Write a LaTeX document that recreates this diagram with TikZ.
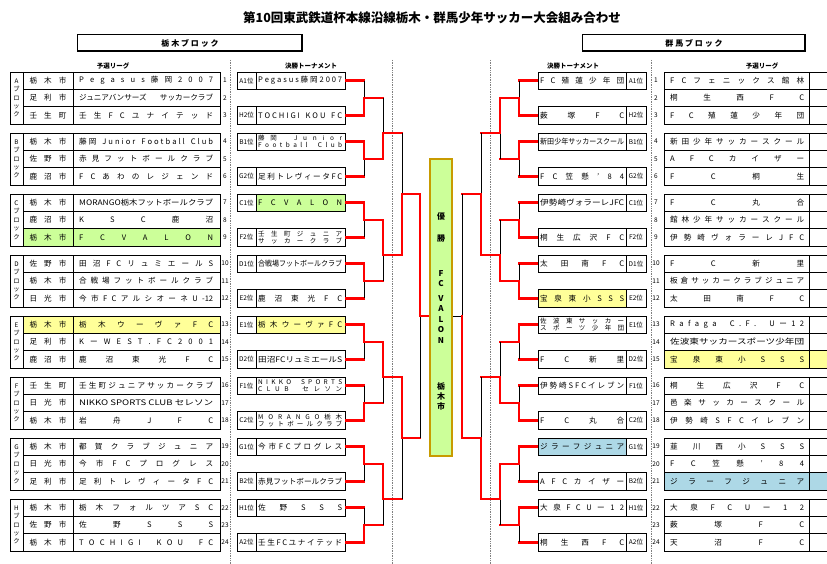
\documentclass[tikz,border=0pt]{standalone}
\usepackage{fontspec}
\usepackage{graphicx}
\setmainfont{Noto Sans CJK JP}
\usetikzlibrary{calc}
\definecolor{vg}{HTML}{CCFF99}
\definecolor{vy}{HTML}{FFFF99}
\definecolor{vb}{HTML}{ADD8E6}
\definecolor{gold}{HTML}{C89B00}
\newcommand\dst[2]{\makebox[#1][s]{#2}}
\newcommand\fitw[2]{\resizebox{#1}{\height}{#2}}
\tikzset{
 txt/.style={inner sep=0pt,font=\fontsize{7.6}{8}\selectfont},
 num/.style={inner sep=0pt,font=\fontsize{6.5}{7}\selectfont},
 blk/.style={inner sep=0pt,font=\fontsize{6.3}{8.4}\selectfont,align=center},
 win/.style={red,line width=2.9pt,line cap=rect},
 lose/.style={black,line width=0.7pt},
 frame/.style={line width=0.9pt},
 dots/.style={gray,densely dotted,line width=0.7pt}
}
\newcommand\lrow[5]{%
 \node[txt] (lc#5) at (48,#1+8.67) {\dst{37pt}{#2}};
 \node[txt,anchor=west] (lt#5) at (79,#1+8.67) {\dst{134pt}{#3}};
 \node[num] (ln#5) at (225,#1+8.67) {#4};}
\newcommand\rrow[4]{%
 \node[txt,anchor=west] (rt#4) at (670,#1+8.67) {\dst{134pt}{#2}};
 \node[num] (rn#4) at (656,#1+8.67) {#3};}
\newcommand\lgrp[2]{%
 \draw[frame] (10,#1) rectangle (220,#1+52);
 \draw[lose] (23,#1)--(23,#1+52) (73,#1)--(73,#1+52) (23,#1+17.33)--(220,#1+17.33) (23,#1+34.67)--(220,#1+34.67);
 \node[blk] (lb#2) at (16.5,#1+26) {#2\\ブ\\ロ\\ッ\\ク};}
\newcommand\rgrp[1]{%
 \draw[frame] (664,#1) rectangle (840,#1+52);
 \draw[lose] (809,#1)--(809,#1+52) (664,#1+17.33)--(840,#1+17.33) (664,#1+34.67)--(840,#1+34.67);}
\newcommand\ltb[4]{%
 \draw[frame] (237,#1) rectangle (345,#1+17.33); \draw[lose] (256,#1)--(256,#1+17.33);
 \node[num] (ll#4) at (246.5,#1+8.67) {#2};
 \node[txt,anchor=west] (lT#4) at (258,#1+8.67) {#3};}
\newcommand\rtb[4]{%
 \draw[frame] (538,#1) rectangle (646,#1+17.33); \draw[lose] (626,#1)--(626,#1+17.33);
 \node[num] (rl#4) at (636,#1+8.67) {#2};
 \node[txt,anchor=west] (rT#4) at (540,#1+8.67) {#3};}
\newcommand\two[2]{\parbox{84pt}{\fontsize{6.5}{7}\selectfont\dst{84pt}{#1}\\\dst{84pt}{#2}}}
\newcommand\bm[6]{%
 \ifnum#6=1 \draw[lose] (#1,#5)--(#1,#4); \draw[win] (#1,#3)--(#1,#5);
 \else \draw[lose] (#1,#3)--(#1,#5); \draw[win] (#1,#4)--(#1,#5);\fi
 \draw[win] (#1,#5)--(#2,#5);}
\begin{document}
\begin{tikzpicture}[x=1pt,y=-1pt]
\useasboundingbox (0,0) rectangle (827,564);
\fill[white] (0,0) rectangle (827,564);
\node[inner sep=0pt,font=\fontsize{12.5}{14}\selectfont\bfseries] (title) at (432,18) {第10回東武鉄道杯本線沿線栃木・群馬少年サッカー大会組み合わせ};
\draw[line width=1pt] (77,35) rectangle (302,51); \draw[line width=2pt] (77,51)--(302,51)--(302,35);
\node[inner sep=0pt,font=\fontsize{8}{9}\selectfont\bfseries] (hl) at (190,43) {栃 木 ブ ロ ッ ク};
\draw[line width=1pt] (582,35) rectangle (805,51); \draw[line width=2pt] (582,51)--(805,51)--(805,35);
\node[inner sep=0pt,font=\fontsize{8}{9}\selectfont\bfseries] (hr) at (694,43) {群 馬 ブ ロ ッ ク};
\node[inner sep=0pt,font=\fontsize{6.5}{7}\selectfont\bfseries] (s1) at (113,66) {予選リーグ};
\node[inner sep=0pt,font=\fontsize{6.5}{7}\selectfont\bfseries] (s2) at (311,66) {決勝トーナメント};
\node[inner sep=0pt,font=\fontsize{6.5}{7}\selectfont\bfseries] (s3) at (573,66) {決勝トーナメント};
\node[inner sep=0pt,font=\fontsize{6.5}{7}\selectfont\bfseries] (s4) at (762,66) {予選リーグ};
\foreach \x in {230,392,490,651} \draw[dots] (\x,60)--(\x,564);
\fill[vg] (23,228.67) rectangle (220,246);
\fill[vy] (23,316) rectangle (220,333.3);
\fill[vg] (256,194) rectangle (345,211.3);
\fill[vy] (256,316) rectangle (345,333.3);
\fill[vy] (664,350.7) rectangle (840,368);
\fill[vb] (664,472.7) rectangle (840,490);
\fill[vy] (538,289.7) rectangle (626,307);
\fill[vb] (538,438) rectangle (626,455.3);
\lgrp{72}{A}\lrow{72}{栃 木 市}{P e g a s u s 藤 岡 2 0 0 7}{1}{1}\lrow{89.33}{足 利 市}{ジュニアバンサーズ サッカークラブ}{2}{2}\lrow{106.67}{壬 生 町}{壬 生 F C ユ ナ イ テ ッ ド}{3}{3}
\lgrp{133}{B}\lrow{133}{栃 木 市}{藤 岡 ~ J u n i o r ~ F o o t b a l l ~ C l u b}{4}{4}\lrow{150.33}{佐 野 市}{赤 見 フ ッ ト ボ ー ル ク ラ ブ}{5}{5}\lrow{167.67}{鹿 沼 市}{F C あ わ の レ ジ ェ ン ド}{6}{6}
\lgrp{194}{C}\lrow{194}{栃 木 市}{\fitw{134pt}{MORANGO栃木フットボールクラブ}}{7}{7}\lrow{211.33}{鹿 沼 市}{K S C 鹿 沼}{8}{8}\lrow{228.67}{栃 木 市}{F C V A L O N}{9}{9}
\lgrp{255}{D}\lrow{255}{佐 野 市}{田 沼 F C リ ュ ミ エ ー ル S}{10}{10}\lrow{272.33}{栃 木 市}{合 戦 場 フ ッ ト ボ ー ル ク ラ ブ}{11}{11}\lrow{289.67}{日 光 市}{今 市 F C ア ル シ オ ー ネ U -12}{12}{12}
\lgrp{316}{E}\lrow{316}{栃 木 市}{栃 木 ウ ー ヴ ァ F C}{13}{13}\lrow{333.33}{足 利 市}{K ー W E S T . F C 2 0 0 1}{14}{14}\lrow{350.67}{鹿 沼 市}{鹿 沼 東 光 F C}{15}{15}
\lgrp{377}{F}\lrow{377}{壬 生 町}{壬 生 町 ジ ュ ニ ア サ ッ カ ー ク ラ ブ}{16}{16}\lrow{394.33}{日 光 市}{\fitw{134pt}{NIKKO SPORTS CLUB セレソン}}{17}{17}\lrow{411.67}{栃 木 市}{岩 舟 J F C}{18}{18}
\lgrp{438}{G}\lrow{438}{栃 木 市}{都 賀 ク ラ ブ ジ ュ ニ ア}{19}{19}\lrow{455.33}{日 光 市}{今 市 F C プ ロ グ レ ス}{20}{20}\lrow{472.67}{足 利 市}{足 利 ト レ ヴ ィ ー タ F C}{21}{21}
\lgrp{499}{H}\lrow{499}{栃 木 市}{栃 木 フ ォ ル ツ ア S C}{22}{22}\lrow{516.33}{佐 野 市}{佐 野 S S S}{23}{23}\lrow{533.67}{栃 木 市}{T O C H I G I ~ K O U ~ F C}{24}{24}
\rgrp{72}\rrow{72}{F C フ ェ ニ ッ ク ス 館 林}{1}{1}\rrow{89.33}{桐 生 西 F C}{2}{2}\rrow{106.67}{F C 殖 蓮 少 年 団}{3}{3}
\rgrp{133}\rrow{133}{新 田 少 年 サ ッ カ ー ス ク ー ル}{4}{4}\rrow{150.33}{A F C カ イ ザ ー}{5}{5}\rrow{167.67}{F C 桐 生}{6}{6}
\rgrp{194}\rrow{194}{F C 丸 合}{7}{7}\rrow{211.33}{館 林 少 年 サ ッ カ ー ス ク ー ル}{8}{8}\rrow{228.67}{伊 勢 崎 ヴ ォ ラ ー レ J F C}{9}{9}
\rgrp{255}\rrow{255}{F C 新 里}{10}{10}\rrow{272.33}{板 倉 サ ッ カ ー ク ラ ブ ジ ュ ニ ア}{11}{11}\rrow{289.67}{太 田 南 F C}{12}{12}
\rgrp{316}\rrow{316}{R a f a g a ~ C . F . ~ U ー 1 2}{13}{13}\rrow{333.33}{\fitw{134pt}{佐波東サッカースポーツ少年団}}{14}{14}\rrow{350.67}{宝 泉 東 小 S S S}{15}{15}
\rgrp{377}\rrow{377}{桐 生 広 沢 F C}{16}{16}\rrow{394.33}{邑 楽 サ ッ カ ー ス ク ー ル}{17}{17}\rrow{411.67}{伊 勢 崎 S F C イ レ ブ ン}{18}{18}
\rgrp{438}\rrow{438}{韮 川 西 小 S S S}{19}{19}\rrow{455.33}{F C 笠 懸 ' 8 4}{20}{20}\rrow{472.67}{ジ ラ ー フ ジ ュ ニ ア}{21}{21}
\rgrp{499}\rrow{499}{大 泉 F C U ー 1 2}{22}{22}\rrow{516.33}{薮 塚 F C}{23}{23}\rrow{533.67}{天 沼 F C}{24}{24}
\ltb{72}{A1位}{\dst{84pt}{P e g a s u s 藤 岡 2 0 0 7}}{a}
\ltb{106.67}{H2位}{\dst{84pt}{T O C H I G I ~ K O U ~ F C}}{b}
\ltb{133}{B1位}{\two{藤 岡 ~ J u n i o r}{F o o t b a l l ~ C l u b}}{c}
\ltb{167.67}{G2位}{\dst{84pt}{足 利 ト レ ヴ ィ ー タ F C}}{d}
\ltb{194}{C1位}{\dst{84pt}{F C V A L O N}}{e}
\ltb{228.67}{F2位}{\two{壬 生 町 ジ ュ ニ ア}{サ ッ カ ー ク ラ ブ}}{f}
\ltb{255}{D1位}{\fitw{84pt}{合戦場フットボールクラブ}}{g}
\ltb{289.67}{E2位}{\dst{84pt}{鹿 沼 東 光 F C}}{h}
\ltb{316}{E1位}{\dst{84pt}{栃 木 ウ ー ヴ ァ F C}}{i}
\ltb{350.67}{D2位}{\fitw{84pt}{田沼FCリュミエールS}}{j}
\ltb{377}{F1位}{\two{N I K K O ~ S P O R T S}{C L U B ~ セ レ ソ ン}}{k}
\ltb{411.67}{C2位}{\two{M O R A N G O 栃 木}{フ ッ ト ボ ー ル ク ラ ブ}}{l}
\ltb{438}{G1位}{\dst{84pt}{今 市 F C プ ロ グ レ ス}}{m}
\ltb{472.67}{B2位}{\fitw{84pt}{赤見フットボールクラブ}}{n}
\ltb{499}{H1位}{\dst{84pt}{佐 野 S S S}}{o}
\ltb{533.67}{A2位}{\dst{84pt}{壬 生 F C ユ ナ イ テ ッ ド}}{p}
\rtb{72}{A1位}{\dst{84pt}{F C 殖 蓮 少 年 団}}{a}
\rtb{106.67}{H2位}{\dst{84pt}{薮 塚 F C}}{b}
\rtb{133}{B1位}{\fitw{84pt}{新田少年サッカースクール}}{c}
\rtb{167.67}{G2位}{\dst{84pt}{F C 笠 懸 ' 8 4}}{d}
\rtb{194}{C1位}{\fitw{84pt}{伊勢崎ヴォラーレJFC}}{e}
\rtb{228.67}{F2位}{\dst{84pt}{桐 生 広 沢 F C}}{f}
\rtb{255}{D1位}{\dst{84pt}{太 田 南 F C}}{g}
\rtb{289.67}{E2位}{\dst{84pt}{宝 泉 東 小 S S S}}{h}
\rtb{316}{E1位}{\two{佐 波 東 サ ッ カ ー}{ス ポ ー ツ 少 年 団}}{i}
\rtb{350.67}{D2位}{\dst{84pt}{F C 新 里}}{j}
\rtb{377}{F1位}{\dst{84pt}{伊 勢 崎 S F C イ レ ブ ン}}{k}
\rtb{411.67}{C2位}{\dst{84pt}{F C 丸 合}}{l}
\rtb{438}{G1位}{\dst{84pt}{ジ ラ ー フ ジ ュ ニ ア}}{m}
\rtb{472.67}{B2位}{\dst{84pt}{A F C カ イ ザ ー}}{n}
\rtb{499}{H1位}{\dst{84pt}{大 泉 F C U ー 1 2}}{o}
\rtb{533.67}{A2位}{\dst{84pt}{桐 生 西 F C}}{p}
\foreach \y in {80.67,115.33,141.67,176.33,202.67,237.33,263.67,298.33,324.67,359.33,385.67,420.33,446.67,481.33,507.67,542.33}{
 \draw[win] (346.5,\y)--(364,\y); \draw[win] (536.5,\y)--(519,\y);}
\bm{364}{383}{80.67}{115.33}{98}{2}\bm{364}{383}{141.67}{176.33}{159}{1}
\bm{364}{383}{202.67}{237.33}{220}{1}\bm{364}{383}{263.67}{298.33}{281}{1}
\bm{364}{383}{324.67}{359.33}{342}{1}\bm{364}{383}{385.67}{420.33}{403}{2}
\bm{364}{383}{446.67}{481.33}{464}{1}\bm{364}{383}{507.67}{542.33}{525}{2}
\bm{383}{402}{98}{159}{133}{2}\bm{383}{402}{220}{281}{255}{1}
\bm{383}{402}{342}{403}{377}{1}\bm{383}{402}{464}{525}{499}{1}
\bm{402}{420}{133}{255}{194}{2}\bm{402}{420}{377}{499}{438}{1}
\bm{420}{429}{194}{438}{316}{1}
\bm{519}{500}{80.67}{115.33}{98}{2}\bm{519}{500}{141.67}{176.33}{159}{1}
\bm{519}{500}{202.67}{237.33}{220}{2}\bm{519}{500}{263.67}{298.33}{281}{2}
\bm{519}{500}{324.67}{359.33}{342}{1}\bm{519}{500}{385.67}{420.33}{403}{2}
\bm{519}{500}{446.67}{481.33}{464}{1}\bm{519}{500}{507.67}{542.33}{525}{1}
\bm{500}{481}{98}{159}{133}{1}\bm{500}{481}{220}{281}{255}{2}
\bm{500}{481}{342}{403}{377}{2}\bm{500}{481}{464}{525}{499}{1}
\bm{481}{462}{133}{255}{194}{2}\bm{481}{462}{377}{499}{438}{2}
\draw[lose] (462,194)--(462,316)--(452,316);
\draw[win] (462,438)--(462,316);
\draw[gold,fill=vg,line width=2.2pt] (430,159) rectangle (452,456);
\node[inner sep=0pt,font=\fontsize{8}{9}\selectfont\bfseries] (ch) at (441,216) {優};
\node[inner sep=0pt,font=\fontsize{8}{9}\selectfont\bfseries] (ch2) at (441,238) {勝};
\node[inner sep=0pt,font=\fontsize{8}{10.5}\selectfont\bfseries,align=center] (ch3) at (441,307) {F\\C\\[4pt]V\\A\\L\\O\\N};
\node[inner sep=0pt,font=\fontsize{8}{10}\selectfont\bfseries,align=center] (ch4) at (441,396) {栃\\木\\市};
\end{tikzpicture}
\end{document}
